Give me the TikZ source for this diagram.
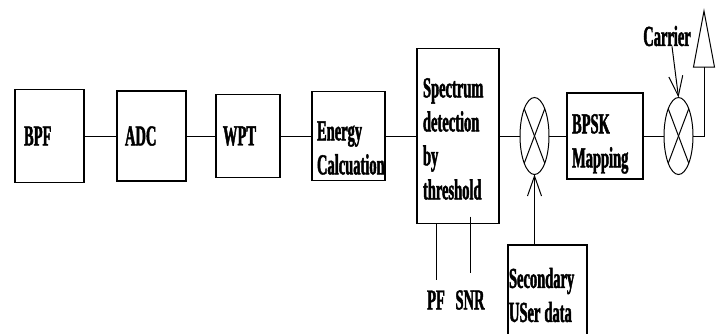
\documentclass[tikz,border=0pt]{standalone}
\usepackage{fontspec}
\newfontfamily\diagfont{Liberation Serif}[FakeStretch=0.5, BoldFeatures={FakeBold=1.5}]
\usetikzlibrary{arrows.meta,positioning,shapes.geometric}

\begin{document}
\begin{tikzpicture}[
    x=1pt, y=-1pt,
    blk/.style={draw, line width=1.3pt, inner ysep=0pt, outer sep=0pt, align=left,
                font=\diagfont\bfseries\fontsize{29}{34}\selectfont},
    mixer/.style={ellipse, draw, line width=1pt, minimum width=29pt,
                  minimum height=77pt, inner sep=0pt, outer sep=0pt},
    lbl/.style={inner sep=0pt,
                font=\diagfont\bfseries\fontsize{29}{34}\selectfont},
    wire/.style={line width=1pt},
    sig/.style={wire, -{Straight Barb[length=20pt, width=14pt]}}
  ]
  \useasboundingbox (0,0) rectangle (721,333);

  %% Receiver chain
  \node[blk, inner xsep=9pt, text width=51pt, minimum height=93pt] (bpf) at (49.5,136) {BPF};
  \node[blk, right=33pt of bpf, inner xsep=8pt, text width=53pt, minimum height=90pt] (adc) {ADC};
  \node[blk, right=30pt of adc, inner xsep=7pt, text width=50pt, minimum height=83pt] (wpt) {WPT};
  \node[blk, right=32pt of wpt, inner xsep=5pt, text width=63pt, minimum height=89pt] (energy) {\rule{0pt}{43pt}Energy\\Calcuation};
  \node[blk, right=32pt of energy, inner xsep=6pt, text width=70pt, minimum height=175pt] (spec) {\rule{0pt}{25pt}Spectrum\\detection\\by\\threshold};

  %% Modulator
  \node[mixer, right=21pt of spec] (mix1) {};
  \node[blk, right=18pt of mix1, inner xsep=5pt, text width=66pt, minimum height=86pt] (bpsk) {\rule{0pt}{35pt}BPSK\\Mapping};
  \node[mixer, right=21pt of bpsk] (mix2) {};
  \coordinate[above right=69pt and 11pt of mix2.east] (ant);

  %% Chain links
  \foreach \a/\b in {bpf/adc, adc/wpt, wpt/energy, energy/spec, spec/mix1, mix1/bpsk, bpsk/mix2}{
    \draw[wire] (\a) -- (\b);
  }

  %% Multiplier crosses
  \foreach \m in {mix1,mix2}{
    \draw[wire] (\m.north west) -- (\m.south east);
    \draw[wire] (\m.north east) -- (\m.south west);
  }

  %% Antenna
  \draw[wire] (mix2.east) -| (ant);
  \draw[wire] (ant) -- ++(-10.5,0) -- ++(10.5,-56) -- ++(10.5,56) -- cycle;

  %% Carrier input
  \node[lbl] (carrier) at (667,36) {Carrier};
  \draw[sig] ([xshift=5pt]carrier.south) -- (mix2.north);

  %% Secondary user data
  \node[blk, anchor=north west, inner xsep=1pt, text width=77pt, minimum height=100pt] (sec) at (508,245) {Secondary\\USer\hspace{4pt}data};
  \draw[sig] (sec.north -| mix1.south) -- (mix1.south);

  %% Threshold parameters
  \node[lbl] (pf) at (436,300) {PF};
  \node[lbl] (snr) at (470,300) {SNR};
  \draw[wire] (pf.north |- spec.south) -- ([yshift=10pt]pf.north);
  \draw[wire] ([yshift=7pt]snr.north |- spec.south) -- ([yshift=17pt]snr.north);

\end{tikzpicture}
\end{document}
